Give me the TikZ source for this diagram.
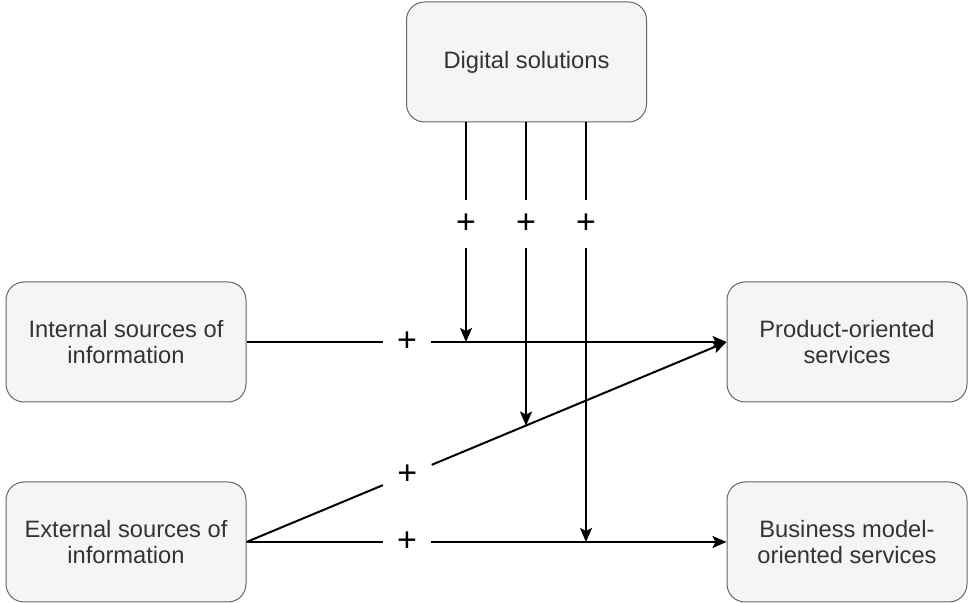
\documentclass[tikz,border=0pt]{standalone}
\usepackage{fontspec}
\setmainfont{Liberation Sans}
\usepackage{tikz}
\usetikzlibrary{arrows.meta, positioning, calc}
\definecolor{boxfill}{HTML}{F5F5F5}
\definecolor{boxline}{HTML}{666666}
\definecolor{boxtext}{HTML}{333333}
\newcommand{\plussign}{\raisebox{-1.5pt}{+}}

\begin{document}
\begin{tikzpicture}[x=0.5pt, y=-0.5pt,
    box/.style={draw=boxline, fill=boxfill, line width=0.5pt, rounded corners=9pt,
        minimum width=120pt, minimum height=60pt, inner sep=0pt, align=center,
        text=boxtext, font=\fontsize{11.85}{13}\selectfont},
    plus/.style={minimum size=24pt, inner sep=0pt, font=\fontsize{17}{17}\selectfont},
    link/.style={line width=1pt},
    arr/.style={link, -{Stealth[length=7pt, width=6pt, inset=1.5pt]}}]
        \useasboundingbox (0,0) rectangle (969,603);

        % Riquadri
        \node[box] (digital) at (526.5, 62) {Digital solutions};
        \node[box] (internal) at (126, 342) {Internal sources of\\information};
        \node[box] (external) at (126, 542) {External sources of\\information};
        \node[box] (product) at (847, 342) {Product-oriented\\services};
        \node[box] (business) at (847, 542) {Business model-\\oriented services};

        % Segni +
        \node[plus] (pa) at (466, 224) {\plussign};
        \node[plus] (pb) at (526, 224) {\plussign};
        \node[plus] (pc) at (586, 224) {\plussign};
        \node[plus] (pint) at (407, 342) {\plussign};
        \node[plus] (pbus) at (407, 542) {\plussign};
        \path (external.east) -- (product.west)
            node[plus, pos=0.335] (pdiag) {\plussign}
            coordinate[pos=0.582] (hitb);

        % Fonti -> servizi
        \draw[link] (internal.east) -- (pint);
        \draw[arr] (pint) -- (product.west);
        \draw[link] (external.east) -- (pdiag);
        \draw[arr] (pdiag) -- (product.west);
        \draw[link] (external.east) -- (pbus);
        \draw[arr] (pbus) -- (business.west);

        % Soluzioni digitali
        \draw[link] (digital.south -| pa) -- (pa);
        \draw[arr] (pa) -- (pa |- product.west);
        \draw[link] (digital.south -| pb) -- (pb);
        \draw[arr] (pb) -- (pb |- hitb);
        \draw[link] (digital.south -| pc) -- (pc);
        \draw[arr] (pc) -- (pc |- business.west);
    \end{tikzpicture}
\end{document}
